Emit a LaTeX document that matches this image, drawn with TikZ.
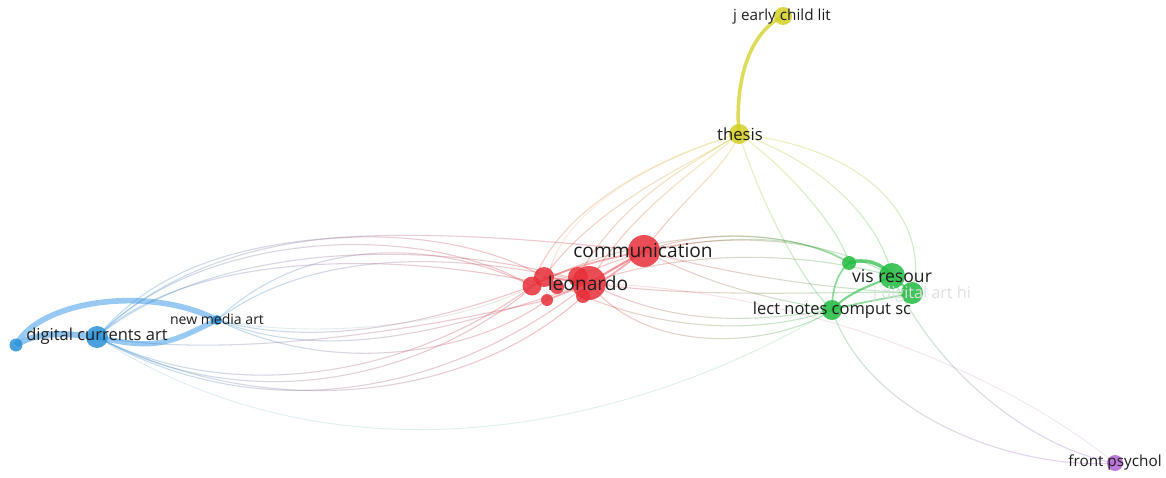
\documentclass[tikz,border=0pt]{standalone}
\usepackage{fontspec}
\setmainfont{Open Sans}
\usetikzlibrary{fadings}
\definecolor{vr}{RGB}{232,48,58}
\definecolor{vg}{RGB}{34,188,64}
\definecolor{vb}{RGB}{42,146,216}
\definecolor{vlb}{RGB}{125,188,240}
\definecolor{vy}{RGB}{212,206,36}
\definecolor{vp}{RGB}{178,98,212}
\definecolor{txt}{RGB}{30,30,30}
\tikzfading[name=fR, left color=transparent!0, right color=transparent!100]
\tikzfading[name=fL, left color=transparent!100, right color=transparent!0]
\tikzfading[name=fD, top color=transparent!0, bottom color=transparent!100]
\tikzfading[name=fU, top color=transparent!100, bottom color=transparent!0]
\tikzset{
  e/.style={line width=0.6pt, draw opacity=0.3},
  ef/.style={line width=0.5pt, draw opacity=0.16},
  dot/.style={circle, inner sep=0pt, fill opacity=0.85, draw=none},
  lab/.style={text=txt, inner sep=0pt, anchor=center},
}
% horizontal gradient edge: style, left colour, right colour, path
\newcommand\gedgeH[4]{\draw[#1,#2,path fading=fR] #4; \draw[#1,#3,path fading=fL] #4;}
% vertical gradient edge: style, top colour, bottom colour, path
\newcommand\gedgeV[4]{\draw[#1,#2,path fading=fD] #4; \draw[#1,#3,path fading=fU] #4;}
\begin{document}
\begin{tikzpicture}[x=0.02cm,y=-0.02cm]
\useasboundingbox[fill=white] (0,0) rectangle (1166,477);
% ---------- node positions ----------
\coordinate (jecl) at (783,16);
\coordinate (thesis) at (739,134);
\coordinate (comm) at (644,251);
\coordinate (leo) at (589,283);
\coordinate (r1) at (578,277);
\coordinate (r2) at (544,277);
\coordinate (r3) at (532,286);
\coordinate (r4) at (557,287);
\coordinate (r5) at (547,300);
\coordinate (r6) at (583,296);
\coordinate (g1) at (849,263);
\coordinate (vis) at (892,276);
\coordinate (g2) at (912,293);
\coordinate (lect) at (832,310);
\coordinate (dca) at (97,337);
\coordinate (b1) at (16,345);
\coordinate (nma) at (217,320);
\coordinate (fp) at (1115,463);
% ---------- edges: blue cluster ----------
\draw[line width=3.2pt, vlb, draw opacity=0.8] (b1) .. controls (40,300) and (150,285) .. (nma);
\draw[line width=3.4pt, vlb, draw opacity=0.85] (b1) .. controls (40,330) and (70,334) .. (dca);
\draw[line width=3pt, vlb, draw opacity=0.8] (dca) .. controls (160,352) and (175,340) .. (nma);
% ---------- edges: blue to red (upper arcs) ----------
\gedgeH{e}{vb}{vr}{(dca) .. controls (200,230) and (420,220) .. (r3)}
\gedgeH{e}{vb}{vr}{(dca) .. controls (210,222) and (430,212) .. (r2)}
\gedgeH{e}{vb}{vr}{(dca) .. controls (220,236) and (450,240) .. (leo)}
\gedgeH{e}{vb}{vr}{(dca) .. controls (190,250) and (400,250) .. (r4)}
\gedgeH{e}{vb}{vr}{(nma) .. controls (300,240) and (430,235) .. (r3)}
\gedgeH{e}{vb}{vr}{(nma) .. controls (310,250) and (450,250) .. (leo)}
\gedgeH{e}{vb}{vr}{(dca) .. controls (180,240) and (320,215) .. (comm)}
% ---------- edges: blue to red (lower arcs) ----------
\gedgeH{e}{vb}{vr}{(dca) .. controls (250,420) and (430,380) .. (r2)}
\gedgeH{e}{vb}{vr}{(dca) .. controls (260,430) and (450,395) .. (leo)}
\gedgeH{e}{vb}{vr}{(dca) .. controls (240,410) and (420,370) .. (r3)}
\gedgeH{e}{vb}{vr}{(dca) .. controls (270,425) and (470,400) .. (r6)}
\gedgeH{e}{vb}{vr}{(nma) .. controls (330,365) and (450,330) .. (leo)}
\gedgeH{e}{vb}{vr}{(nma) .. controls (320,350) and (440,320) .. (r3)}
\gedgeH{e}{vb}{vr}{(nma) .. controls (340,380) and (480,350) .. (r5)}
\gedgeH{e}{vb}{vr}{(dca) .. controls (230,360) and (420,330) .. (r5)}
\gedgeH{ef}{vb}{vg!50!vr}{(nma) .. controls (300,338) and (450,330) .. (r3)}
% ---------- blue to green (faint) ----------
\gedgeH{ef}{vb}{vg}{(dca) .. controls (350,500) and (650,420) .. (lect)}
% ---------- yellow ----------
\draw[line width=2pt, vy, draw opacity=0.75] (jecl) .. controls (745,35) and (735,90) .. (thesis);
% ---------- red to thesis ----------
\gedgeV{e}{vy}{vr}{(thesis) .. controls (700,160) and (600,200) .. (r2)}
\gedgeV{e}{vy}{vr}{(thesis) .. controls (710,160) and (630,210) .. (leo)}
\gedgeV{e}{vy}{vr}{(thesis) .. controls (725,170) and (680,200) .. (comm)}
\gedgeV{e}{vy}{vr}{(thesis) .. controls (680,150) and (560,200) .. (r3)}
\gedgeV{e}{vy}{vr}{(thesis) .. controls (690,165) and (620,200) .. (r1)}
\gedgeV{ef}{vy}{vr}{(thesis) .. controls (650,160) and (540,220) .. (r5)}
% ---------- thesis to green ----------
\gedgeV{e}{vy}{vg}{(thesis) .. controls (790,170) and (840,230) .. (g1)}
\gedgeV{e}{vy}{vg}{(thesis) .. controls (820,160) and (880,220) .. (vis)}
\gedgeV{e}{vy}{vg}{(thesis) .. controls (880,150) and (930,230) .. (g2)}
\gedgeV{e}{vy}{vg}{(thesis) .. controls (760,200) and (800,280) .. (lect)}
% ---------- red to green ----------
\gedgeH{e}{vr}{vg}{(comm) .. controls (720,225) and (800,235) .. (g1)}
\gedgeH{e}{vr}{vg}{(comm) .. controls (740,230) and (830,240) .. (vis)}
\gedgeH{e}{vr}{vg}{(comm) .. controls (720,290) and (780,300) .. (lect)}
\gedgeH{e}{vr}{vg}{(leo) .. controls (680,330) and (760,320) .. (lect)}
\gedgeH{e}{vr}{vg}{(leo) .. controls (680,250) and (800,250) .. (vis)}
\gedgeH{e}{vr}{vg}{(r1) .. controls (660,235) and (800,225) .. (g1)}
\gedgeH{e}{vr}{vg}{(leo) .. controls (700,300) and (850,290) .. (g2)}
\gedgeH{e}{vr}{vg}{(r2) .. controls (650,335) and (760,335) .. (lect)}
\gedgeH{e}{vr}{vg}{(comm) .. controls (750,280) and (850,290) .. (g2)}
\gedgeH{e}{vr}{vg}{(leo) .. controls (650,360) and (780,345) .. (lect)}
\gedgeH{e}{vr}{vg}{(r3) .. controls (640,230) and (780,220) .. (g1)}
\gedgeH{ef}{vr}{vp}{(leo) .. controls (800,290) and (1000,370) .. (fp)}
% ---------- red internal ----------
\draw[line width=1.2pt, vr, draw opacity=0.5] (r2) -- (leo) -- (comm);
\draw[line width=1pt, vr, draw opacity=0.4] (r3) .. controls (560,270) and (600,260) .. (comm);
\draw[line width=1pt, vr, draw opacity=0.4] (r5) -- (leo);
\draw[line width=1pt, vr, draw opacity=0.4] (r6) -- (comm);
% ---------- green internal ----------
\draw[line width=2pt, vg, draw opacity=0.7] (g1) .. controls (865,258) and (880,262) .. (vis);
\draw[line width=1.2pt, vg, draw opacity=0.6] (lect) .. controls (850,290) and (875,285) .. (vis);
\draw[line width=1pt, vg, draw opacity=0.5] (lect) .. controls (832,285) and (840,270) .. (g1);
\draw[line width=1pt, vg, draw opacity=0.5] (lect) .. controls (860,302) and (890,298) .. (g2);
\draw[line width=1.2pt, vg, draw opacity=0.6] (vis) -- (g2);
% ---------- green to front psychol ----------
\gedgeV{e}{vg}{vp}{(vis) .. controls (940,380) and (1040,450) .. (fp)}
\gedgeV{e}{vg}{vp}{(lect) .. controls (870,420) and (1020,470) .. (fp)}
% ---------- nodes ----------
\node[dot, fill=vy, minimum size=0.36cm] (njecl) at (jecl) {};
\node[dot, fill=vy, minimum size=0.40cm] (nthesis) at (thesis) {};
\node[dot, fill=vr, minimum size=0.64cm] (ncomm) at (comm) {};
\node[dot, fill=vr, minimum size=0.38cm] (nr3) at (r3) {};
\node[dot, fill=vr, minimum size=0.40cm] (nr2) at (r2) {};
\node[dot, fill=vr, minimum size=0.28cm] (nr4) at (r4) {};
\node[dot, fill=vr, minimum size=0.24cm] (nr5) at (r5) {};
\node[dot, fill=vr, minimum size=0.40cm] (nr1) at (r1) {};
\node[dot, fill=vr, minimum size=0.68cm] (nleo) at (leo) {};
\node[dot, fill=vr, minimum size=0.28cm] (nr6) at (r6) {};
\node[dot, fill=vg, minimum size=0.28cm] (ng1) at (g1) {};
\node[dot, fill=vg, minimum size=0.52cm] (nvis) at (vis) {};
\node[dot, fill=vg, minimum size=0.44cm] (ng2) at (g2) {};
\node[dot, fill=vg, minimum size=0.40cm] (nlect) at (lect) {};
\node[dot, fill=vb, minimum size=0.44cm] (ndca) at (dca) {};
\node[dot, fill=vb, minimum size=0.26cm] (nb1) at (b1) {};
\node[dot, fill=vb, minimum size=0.20cm] (nnma) at (nma) {};
\node[dot, fill=vp, minimum size=0.32cm] (nfp) at (fp) {};
% ---------- labels ----------
\node[lab, font=\fontsize{8.7pt}{10pt}\selectfont] (ljecl) at (782,17) {j early child lit};
\node[lab, font=\fontsize{9.5pt}{11pt}\selectfont] (lthesis) at (740,134) {thesis};
\node[lab, font=\fontsize{10.9pt}{12pt}\selectfont] (lcomm) at (643,251) {communication};
\node[lab, font=\fontsize{10.9pt}{12pt}\selectfont] (lleo) at (588,283) {leonardo};
\node[lab, font=\fontsize{9.2pt}{11pt}\selectfont, text=black!12] (ljdah) at (922,294) {j digital art hi};
\node[lab, font=\fontsize{10pt}{11pt}\selectfont] (lvis) at (892,276) {vis resour};
\node[lab, font=\fontsize{9.4pt}{11pt}\selectfont] (llect) at (832,310) {lect notes comput sc};
\node[lab, font=\fontsize{9.4pt}{11pt}\selectfont] (ldca) at (97,336) {digital currents art};
\node[lab, font=\fontsize{8pt}{9pt}\selectfont] (lnma) at (217,319) {new media art};
\node[lab, font=\fontsize{8.7pt}{10pt}\selectfont] (lfp) at (1115,462) {front psychol};
\end{tikzpicture}
\end{document}
